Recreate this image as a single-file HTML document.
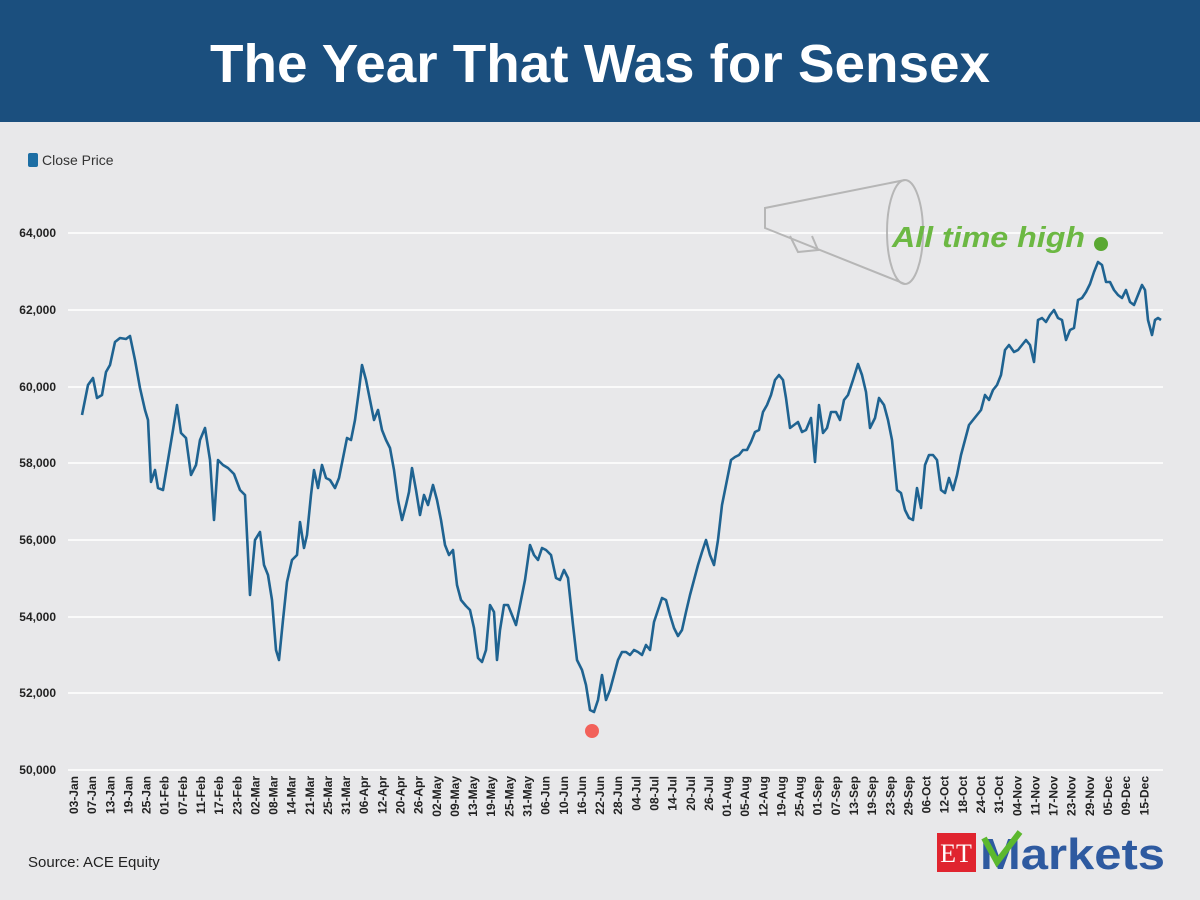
<!DOCTYPE html>
<html><head><meta charset="utf-8"><style>
html,body{margin:0;padding:0;width:1200px;height:900px;overflow:hidden;background:#e8e8ea;font-family:"Liberation Sans",sans-serif}
</style></head><body>
<svg width="1200" height="900" xmlns="http://www.w3.org/2000/svg" font-family="Liberation Sans, sans-serif">
<rect x="0" y="0" width="1200" height="900" fill="#e8e8ea"/>
<rect x="0" y="0" width="1200" height="122" fill="#1b4f7e"/>
<text x="600" y="82" text-anchor="middle" fill="#fff" font-size="54" font-weight="bold" textLength="780" lengthAdjust="spacingAndGlyphs">The Year That Was for Sensex</text>
<rect x="28" y="153" width="10" height="14" rx="2" fill="#1c6ea4"/>
<text x="42" y="165" font-size="14" fill="#333">Close Price</text>
<g stroke="#ffffff" stroke-width="1.5">
<line x1="68" y1="233" x2="1163" y2="233"/><line x1="68" y1="310" x2="1163" y2="310"/>
<line x1="68" y1="387" x2="1163" y2="387"/><line x1="68" y1="463" x2="1163" y2="463"/>
<line x1="68" y1="540" x2="1163" y2="540"/><line x1="68" y1="617" x2="1163" y2="617"/>
<line x1="68" y1="693" x2="1163" y2="693"/><line x1="68" y1="770" x2="1163" y2="770"/>
</g>
<g font-size="12" font-weight="bold" fill="#222" text-anchor="end">
<text x="56" y="237">64,000</text><text x="56" y="314">62,000</text><text x="56" y="391">60,000</text>
<text x="56" y="467">58,000</text><text x="56" y="544">56,000</text><text x="56" y="621">54,000</text>
<text x="56" y="697">52,000</text><text x="56" y="774">50,000</text>
</g>
<g font-size="12" font-weight="bold" fill="#222" text-anchor="end">
<text transform="translate(78,776) rotate(-90)">03-Jan</text>
<text transform="translate(96.1,776) rotate(-90)">07-Jan</text>
<text transform="translate(114.3,776) rotate(-90)">13-Jan</text>
<text transform="translate(132.4,776) rotate(-90)">19-Jan</text>
<text transform="translate(150.6,776) rotate(-90)">25-Jan</text>
<text transform="translate(168.7,776) rotate(-90)">01-Feb</text>
<text transform="translate(186.8,776) rotate(-90)">07-Feb</text>
<text transform="translate(205,776) rotate(-90)">11-Feb</text>
<text transform="translate(223.1,776) rotate(-90)">17-Feb</text>
<text transform="translate(241.3,776) rotate(-90)">23-Feb</text>
<text transform="translate(259.4,776) rotate(-90)">02-Mar</text>
<text transform="translate(277.5,776) rotate(-90)">08-Mar</text>
<text transform="translate(295.7,776) rotate(-90)">14-Mar</text>
<text transform="translate(313.8,776) rotate(-90)">21-Mar</text>
<text transform="translate(332,776) rotate(-90)">25-Mar</text>
<text transform="translate(350.1,776) rotate(-90)">31-Mar</text>
<text transform="translate(368.2,776) rotate(-90)">06-Apr</text>
<text transform="translate(386.4,776) rotate(-90)">12-Apr</text>
<text transform="translate(404.5,776) rotate(-90)">20-Apr</text>
<text transform="translate(422.7,776) rotate(-90)">26-Apr</text>
<text transform="translate(440.8,776) rotate(-90)">02-May</text>
<text transform="translate(458.9,776) rotate(-90)">09-May</text>
<text transform="translate(477.1,776) rotate(-90)">13-May</text>
<text transform="translate(495.2,776) rotate(-90)">19-May</text>
<text transform="translate(513.4,776) rotate(-90)">25-May</text>
<text transform="translate(531.5,776) rotate(-90)">31-May</text>
<text transform="translate(549.6,776) rotate(-90)">06-Jun</text>
<text transform="translate(567.8,776) rotate(-90)">10-Jun</text>
<text transform="translate(585.9,776) rotate(-90)">16-Jun</text>
<text transform="translate(604.1,776) rotate(-90)">22-Jun</text>
<text transform="translate(622.2,776) rotate(-90)">28-Jun</text>
<text transform="translate(640.3,776) rotate(-90)">04-Jul</text>
<text transform="translate(658.5,776) rotate(-90)">08-Jul</text>
<text transform="translate(676.6,776) rotate(-90)">14-Jul</text>
<text transform="translate(694.8,776) rotate(-90)">20-Jul</text>
<text transform="translate(712.9,776) rotate(-90)">26-Jul</text>
<text transform="translate(731,776) rotate(-90)">01-Aug</text>
<text transform="translate(749.2,776) rotate(-90)">05-Aug</text>
<text transform="translate(767.3,776) rotate(-90)">12-Aug</text>
<text transform="translate(785.5,776) rotate(-90)">19-Aug</text>
<text transform="translate(803.6,776) rotate(-90)">25-Aug</text>
<text transform="translate(821.7,776) rotate(-90)">01-Sep</text>
<text transform="translate(839.9,776) rotate(-90)">07-Sep</text>
<text transform="translate(858,776) rotate(-90)">13-Sep</text>
<text transform="translate(876.2,776) rotate(-90)">19-Sep</text>
<text transform="translate(894.3,776) rotate(-90)">23-Sep</text>
<text transform="translate(912.4,776) rotate(-90)">29-Sep</text>
<text transform="translate(930.6,776) rotate(-90)">06-Oct</text>
<text transform="translate(948.7,776) rotate(-90)">12-Oct</text>
<text transform="translate(966.9,776) rotate(-90)">18-Oct</text>
<text transform="translate(985,776) rotate(-90)">24-Oct</text>
<text transform="translate(1003.1,776) rotate(-90)">31-Oct</text>
<text transform="translate(1021.3,776) rotate(-90)">04-Nov</text>
<text transform="translate(1039.4,776) rotate(-90)">11-Nov</text>
<text transform="translate(1057.6,776) rotate(-90)">17-Nov</text>
<text transform="translate(1075.7,776) rotate(-90)">23-Nov</text>
<text transform="translate(1093.8,776) rotate(-90)">29-Nov</text>
<text transform="translate(1112,776) rotate(-90)">05-Dec</text>
<text transform="translate(1130.1,776) rotate(-90)">09-Dec</text>
<text transform="translate(1148.3,776) rotate(-90)">15-Dec</text>
</g>
<g fill="none" stroke="#aaa" stroke-width="2" opacity="0.8">
<ellipse cx="905" cy="232" rx="18" ry="52"/>
<path d="M905 180 L765 208 L765 228 L905 284"/>
<path d="M790 236 L798 252 L818 250 L812 236"/>
</g>
<polyline fill="none" stroke="#1f6391" stroke-width="2.6" stroke-linejoin="round" points="82,415 88,385 93,378 97,398 102,395 106,372 110,365 115,342 120,338 126,339 130,336 135,360 140,388 145,410 148,420 151,482 155,470 158,488 163,490 168,460 173,430 177,405 181,433 186,438 191,475 196,465 200,440 205,428 210,460 214,520 218,460 223,465 228,468 234,474 240,490 245,495 250,595 255,540 260,532 264,565 268,575 272,600 276,650 279,660 283,620 287,582 292,560 297,555 300,522 304,548 307,535 311,495 314,470 318,488 322,465 326,478 330,480 335,488 339,478 343,458 347,438 351,440 355,420 359,390 362,365 366,380 370,400 374,420 378,410 382,430 386,440 390,448 394,470 398,500 402,520 406,505 409,492 412,468 416,490 420,515 424,495 428,505 433,485 437,500 441,520 445,545 449,555 453,550 457,585 461,600 466,606 470,610 474,628 478,658 482,662 486,650 490,605 494,612 497,660 500,630 504,605 508,605 512,615 516,625 521,600 525,580 530,545 534,555 538,560 542,548 546,550 551,555 556,578 560,580 564,570 568,578 573,625 577,660 582,670 586,685 590,710 594,712 598,700 602,675 606,700 610,690 614,675 618,660 622,652 626,652 630,655 634,650 638,652 642,655 646,645 650,650 654,622 658,610 662,598 666,600 670,615 674,628 678,636 682,630 686,612 690,595 694,580 698,565 702,552 706,540 710,555 714,565 718,540 722,505 727,480 731,460 735,457 739,455 743,450 747,450 751,442 755,432 759,430 763,412 767,405 771,395 775,380 779,375 783,380 786,398 790,428 794,425 798,422 802,432 806,430 811,418 815,462 819,405 823,433 827,428 831,412 836,412 840,420 844,400 848,395 853,380 858,364 862,375 866,392 870,428 875,418 879,398 884,405 888,420 892,440 897,490 901,493 905,510 909,518 913,520 917,488 921,508 925,465 929,455 933,455 937,460 941,490 945,493 949,478 953,490 957,475 961,455 965,440 969,425 973,420 977,415 981,410 985,395 989,400 993,390 997,385 1001,375 1005,350 1009,345 1014,352 1018,350 1022,345 1026,340 1030,345 1034,362 1038,320 1042,318 1046,322 1050,315 1054,310 1058,318 1062,320 1066,340 1070,330 1074,328 1078,300 1082,298 1086,292 1090,284 1094,272 1098,262 1102,265 1106,282 1110,282 1114,290 1118,295 1122,298 1126,290 1130,302 1134,305 1138,295 1142,285 1145,290 1148,320 1152,335 1155,320 1158,318 1161,320"/>
<circle cx="1101" cy="244" r="7" fill="#5aa832"/>
<circle cx="592" cy="731" r="7" fill="#f2615a"/>
<text x="892" y="247" font-size="29" font-weight="bold" font-style="italic" fill="#6cb843" textLength="193" lengthAdjust="spacingAndGlyphs">All time high</text>
<text x="28" y="867" font-size="15" fill="#222">Source: ACE Equity</text>
<rect x="937" y="833" width="39" height="39" fill="#e0242f"/>
<text x="956" y="862" text-anchor="middle" font-family="Liberation Serif, serif" font-size="26" fill="#fff">ET</text>
<text x="980" y="869" font-size="44" font-weight="bold" fill="#2e5aa0" textLength="185" lengthAdjust="spacingAndGlyphs">Markets</text>
<path d="M984 838 L997 862 L1020 832" fill="none" stroke="#5cb82e" stroke-width="6"/>
</svg>
</body></html>
